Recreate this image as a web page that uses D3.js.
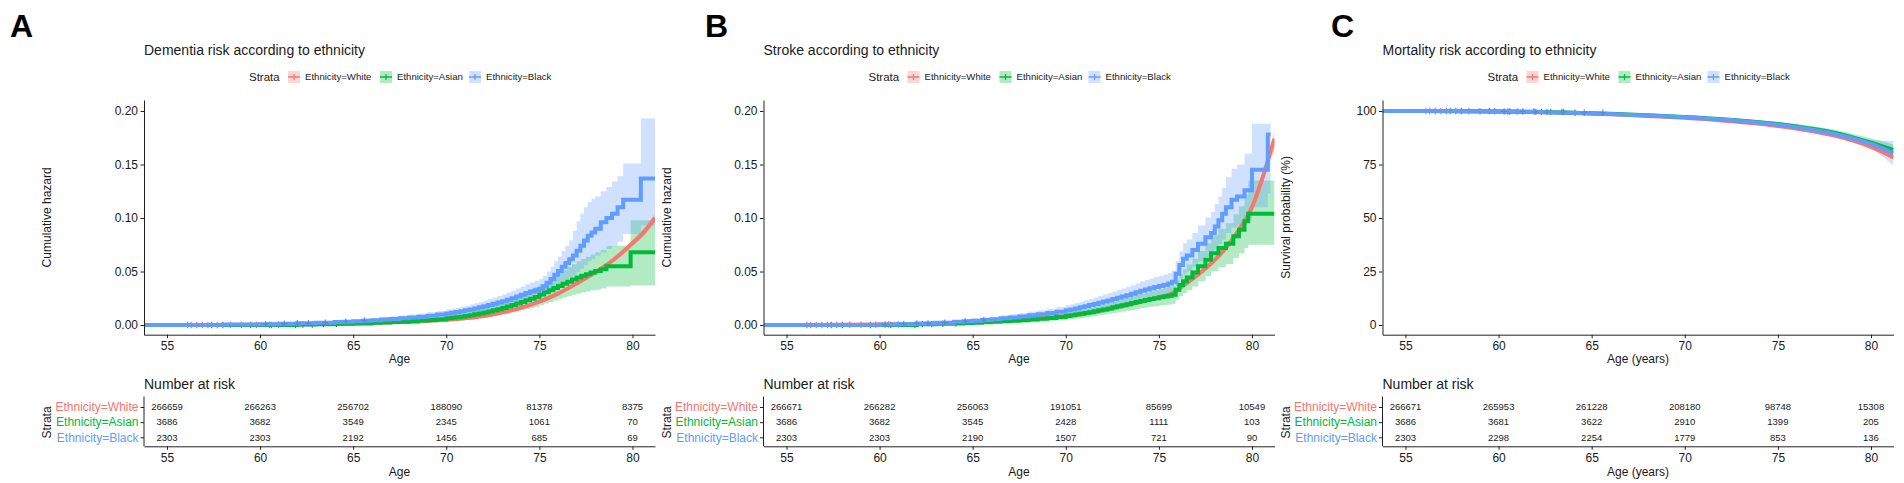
<!DOCTYPE html>
<html><head><meta charset="utf-8">
<script src="https://cdn.jsdelivr.net/npm/d3@7/dist/d3.min.js"></script>
<style>
body{margin:0;background:#fff}
svg{display:block}
text{font-family:"Liberation Sans",Arial,Helvetica,sans-serif}
</style>
</head><body>
<svg id="chart" width="1904" height="483"></svg>
<script>
// ---------------- data ----------------
const xTicks = [55, 60, 65, 70, 75, 80];
const hazardTicks = [0, 0.05, 0.10, 0.15, 0.20];
const hazardTickLabels = ["0.00", "0.05", "0.10", "0.15", "0.20"];
const survTicks = [0, 25, 50, 75, 100];
const survTickLabels = ["0", "25", "50", "75", "100"];
const strata = ["Ethnicity=White", "Ethnicity=Asian", "Ethnicity=Black"];
const panelLetters = ["A", "B", "C"];
const panelTitles = ["Dementia risk according to ethnicity", "Stroke according to ethnicity", "Mortality risk according to ethnicity"];
const yTitles = ["Cumulative hazard", "Cumulative hazard", "Survival probability (%)"];
const xTitles = ["Age", "Age", "Age (years)"];

// [age, estimate, lower, upper]
const dementiaWhite = [[56.0,0,0,0],[58,0.0001,0,0.0003],[60,0.0003,0.0001,0.0005],[62,0.0006,0.0004,0.0008],[64,0.0011,0.0009,0.0013],[66,0.0018,0.0015,0.0021],[68,0.003,0.0027,0.0033],[69,0.0038,0.0034,0.0042],[70,0.0048,0.0044,0.0052],[71,0.0062,0.0057,0.0067],[72,0.0084,0.0078,0.009],[73,0.0118,0.0111,0.0125],[74,0.016,0.0152,0.0168],[75,0.0218,0.0208,0.0228],[76,0.0293,0.0281,0.0305],[77,0.0388,0.0373,0.0403],[78,0.0492,0.0474,0.051],[79,0.0612,0.059,0.0634],[80,0.0765,0.0737,0.0793],[80.6,0.0865,0.083,0.09],[81.21,0.1,0.0955,0.1045]];
const dementiaAsian = [[57,0,0,0],[62,0.0005,0,0.0012],[63,0.0008,0.0001,0.0016],[64,0.0011,0.0003,0.002],[65,0.0015,0.0005,0.0026],[66,0.002,0.0008,0.0033],[66.5,0.0023,0.001,0.0037],[67,0.0027,0.0012,0.0042],[67.5,0.0031,0.0014,0.0048],[68,0.0036,0.0017,0.0055],[68.5,0.0041,0.002,0.0062],[69,0.0047,0.0024,0.007],[69.5,0.0054,0.0028,0.008],[70,0.0062,0.0033,0.0091],[70.25,0.0067,0.0036,0.0098],[70.5,0.0072,0.0039,0.0105],[70.75,0.0078,0.0043,0.0113],[71,0.0085,0.0048,0.0122],[71.25,0.0092,0.0052,0.0132],[71.5,0.01,0.0057,0.0143],[71.75,0.0108,0.0062,0.0154],[72,0.0117,0.0068,0.0166],[72.25,0.0127,0.0075,0.0179],[72.5,0.0137,0.0082,0.0192],[72.75,0.0148,0.0089,0.0207],[73,0.016,0.0097,0.0223],[73.25,0.0173,0.0106,0.024],[73.5,0.0187,0.0116,0.0258],[73.75,0.0201,0.0126,0.0276],[74,0.0216,0.0137,0.0295],[74.25,0.0231,0.0148,0.0314],[74.5,0.0246,0.0159,0.0333],[74.75,0.0262,0.017,0.0354],[75,0.0285,0.0188,0.0382],[75.25,0.0305,0.0202,0.0408],[75.5,0.0325,0.0216,0.0434],[75.75,0.0345,0.0229,0.0461],[76,0.0365,0.0243,0.0487],[76.25,0.0385,0.0256,0.0514],[76.5,0.0405,0.0269,0.0541],[76.75,0.0425,0.0282,0.0568],[77,0.0445,0.0295,0.0595],[77.25,0.046,0.0304,0.0616],[77.5,0.0475,0.0313,0.0637],[77.75,0.049,0.0322,0.0658],[78,0.0505,0.033,0.068],[78.3,0.052,0.034,0.07],[78.6,0.055,0.036,0.074],[79.9,0.068,0.037,0.098],[81.21,0.068,0.037,0.098]];
const dementiaBlack = [[53.76,0,0,0],[58,0.0004,0,0.001],[60,0.0008,0.0001,0.0016],[61,0.0012,0.0003,0.0022],[62,0.0016,0.0005,0.0028],[63,0.0022,0.0008,0.0036],[64,0.0028,0.0012,0.0044],[64.5,0.0031,0.0014,0.0048],[65,0.0035,0.0017,0.0053],[65.5,0.004,0.002,0.006],[66,0.0045,0.0024,0.0066],[66.5,0.0051,0.0028,0.0074],[67,0.0057,0.0033,0.0081],[67.5,0.0063,0.0038,0.0088],[68,0.007,0.0043,0.0097],[68.5,0.0078,0.0049,0.0107],[69,0.0087,0.0056,0.0118],[69.5,0.0097,0.0063,0.0131],[70,0.0108,0.0071,0.0145],[70.25,0.0114,0.0076,0.0152],[70.5,0.0121,0.0081,0.0161],[70.75,0.0129,0.0087,0.0171],[71,0.0137,0.0093,0.0181],[71.25,0.0146,0.01,0.0192],[71.5,0.0155,0.0107,0.0203],[71.75,0.0165,0.0114,0.0216],[72,0.0176,0.0122,0.023],[72.25,0.0187,0.0131,0.0243],[72.5,0.0198,0.0139,0.0257],[72.75,0.021,0.0148,0.0272],[73,0.0222,0.0157,0.0287],[73.25,0.0236,0.0168,0.0304],[73.5,0.025,0.0179,0.0321],[73.75,0.0266,0.0191,0.0341],[74,0.0282,0.0204,0.036],[74.25,0.0298,0.0216,0.038],[74.5,0.0313,0.0228,0.0398],[74.75,0.0325,0.0237,0.0413],[75,0.0338,0.0247,0.0429],[75.2,0.0362,0.0266,0.0458],[75.4,0.0395,0.029,0.05],[75.6,0.043,0.0316,0.0544],[75.8,0.047,0.0345,0.0595],[76,0.0505,0.037,0.064],[76.2,0.0545,0.0398,0.0692],[76.4,0.058,0.0422,0.0738],[76.6,0.0615,0.0446,0.079],[76.8,0.065,0.047,0.088],[77,0.0695,0.0497,0.097],[77.2,0.074,0.0525,0.104],[77.4,0.079,0.056,0.11],[77.6,0.0835,0.0595,0.115],[77.8,0.0865,0.062,0.118],[78,0.09,0.065,0.12],[78.3,0.096,0.068,0.125],[78.6,0.1,0.071,0.129],[78.9,0.104,0.074,0.134],[79.2,0.11,0.078,0.139],[79.5,0.117,0.085,0.151],[80.45,0.137,0.093,0.193],[81.21,0.137,0.093,0.193]];

const strokeWhite = [[56,0,0,0],[58,0.0002,0.0001,0.0003],[60,0.0005,0.0003,0.0007],[62,0.001,0.0008,0.0012],[64,0.002,0.0017,0.0023],[66,0.0035,0.0031,0.0039],[68,0.0057,0.0052,0.0062],[70,0.0085,0.0079,0.0091],[71,0.0108,0.0101,0.0115],[72,0.0138,0.013,0.0146],[73,0.0175,0.0166,0.0184],[74,0.0215,0.0205,0.0225],[75,0.026,0.0249,0.0271],[75.7,0.0295,0.0283,0.0307],[76.4,0.038,0.0366,0.0394],[77.1,0.047,0.0453,0.0487],[77.8,0.0575,0.0555,0.0595],[78.6,0.072,0.0695,0.0745],[79.3,0.089,0.086,0.092],[80,0.11,0.106,0.114],[80.5,0.134,0.129,0.139],[81,0.162,0.155,0.169],[81.21,0.174,0.166,0.182]];
const strokeAsian = [[57,0,0,0],[62,0.0008,0.0001,0.0017],[63,0.0011,0.0003,0.0021],[64,0.0015,0.0005,0.0026],[64.5,0.0018,0.0007,0.0029],[65,0.0021,0.0009,0.0033],[65.5,0.0025,0.0011,0.0039],[66,0.003,0.0014,0.0046],[66.5,0.0035,0.0017,0.0053],[67,0.004,0.0021,0.0059],[67.5,0.0045,0.0024,0.0066],[68,0.0051,0.0028,0.0074],[68.5,0.0058,0.0033,0.0083],[69,0.0066,0.0039,0.0093],[69.5,0.0075,0.0045,0.0105],[70,0.0085,0.0052,0.0118],[70.25,0.0091,0.0056,0.0126],[70.5,0.0097,0.006,0.0134],[70.75,0.0104,0.0066,0.0142],[71,0.0112,0.0071,0.0153],[71.25,0.012,0.0077,0.0163],[71.5,0.0128,0.0083,0.0173],[71.75,0.0137,0.009,0.0184],[72,0.0146,0.0097,0.0195],[72.25,0.0155,0.0104,0.0206],[72.5,0.0165,0.0111,0.0219],[72.75,0.0175,0.0118,0.0232],[73,0.0185,0.0126,0.0244],[73.25,0.0195,0.0133,0.0257],[73.5,0.0205,0.0141,0.0269],[73.75,0.0215,0.0149,0.0281],[74,0.0225,0.0157,0.0293],[74.25,0.0234,0.0164,0.0304],[74.5,0.0243,0.017,0.0316],[74.75,0.0251,0.0176,0.0326],[75,0.0259,0.0182,0.0336],[75.25,0.0266,0.0187,0.0345],[75.5,0.0273,0.0192,0.0354],[75.7,0.0282,0.0199,0.0365],[75.9,0.033,0.0236,0.0424],[76.1,0.0375,0.027,0.048],[76.3,0.041,0.0298,0.0522],[76.5,0.0445,0.0325,0.0565],[76.8,0.049,0.036,0.062],[77.1,0.055,0.0408,0.0692],[77.5,0.061,0.0455,0.0765],[77.8,0.067,0.0502,0.0838],[78.2,0.072,0.054,0.09],[78.6,0.076,0.0571,0.095],[79,0.083,0.0625,0.1035],[79.3,0.089,0.067,0.111],[79.6,0.097,0.072,0.122],[79.8,0.104,0.075,0.135],[81.21,0.104,0.075,0.135]];
const strokeBlack = [[53.76,0,0,0],[60,0.0005,0,0.0012],[61,0.001,0.0002,0.0019],[62,0.0015,0.0004,0.0027],[63,0.0022,0.0008,0.0036],[64,0.003,0.0013,0.0047],[64.5,0.0035,0.0016,0.0054],[65,0.004,0.0019,0.0061],[65.5,0.0047,0.0024,0.007],[66,0.0054,0.0028,0.008],[66.5,0.0062,0.0034,0.009],[67,0.007,0.0039,0.0101],[67.5,0.008,0.0047,0.0113],[68,0.009,0.0054,0.0126],[68.5,0.01,0.0062,0.0138],[69,0.0112,0.0071,0.0153],[69.5,0.0125,0.0081,0.0169],[70,0.0138,0.0091,0.0185],[70.25,0.0146,0.0097,0.0195],[70.5,0.0155,0.0104,0.0206],[70.75,0.0165,0.0112,0.0218],[71,0.0176,0.012,0.0232],[71.25,0.0186,0.0128,0.0244],[71.5,0.0197,0.0137,0.0257],[71.75,0.0208,0.0145,0.0271],[72,0.0219,0.0154,0.0284],[72.25,0.023,0.0162,0.0298],[72.5,0.0242,0.0172,0.0312],[72.75,0.0254,0.0181,0.0327],[73,0.0266,0.0191,0.0341],[73.25,0.0279,0.0201,0.0357],[73.5,0.0292,0.0212,0.0372],[73.75,0.0306,0.0223,0.0389],[74,0.032,0.0234,0.0406],[74.25,0.0332,0.0243,0.0421],[74.5,0.0344,0.0253,0.0435],[74.75,0.0355,0.0262,0.0448],[75,0.0365,0.027,0.046],[75.25,0.0375,0.0278,0.0472],[75.5,0.0387,0.0288,0.0486],[75.7,0.0405,0.0302,0.0508],[75.9,0.048,0.0365,0.0595],[76.1,0.056,0.043,0.069],[76.3,0.062,0.048,0.0765],[76.5,0.065,0.0505,0.08],[76.8,0.07,0.0545,0.086],[77.1,0.076,0.059,0.093],[77.5,0.082,0.0635,0.1005],[77.8,0.086,0.0665,0.1055],[78,0.092,0.071,0.113],[78.2,0.098,0.0755,0.12],[78.4,0.104,0.08,0.128],[78.6,0.11,0.086,0.138],[78.9,0.117,0.091,0.146],[79.2,0.12,0.093,0.15],[79.6,0.126,0.098,0.16],[80,0.145,0.11,0.188],[80.85,0.178,0.123,0.188],[81.0,0.178,0.123,0.188]];

const mortalityWhite = [[56,100,100,100],[58,99.9,99.85,99.95],[60,99.75,99.7,99.8],[62,99.5,99.45,99.55],[64,99.1,99.05,99.15],[66,98.5,98.44,98.56],[68,97.7,97.63,97.77],[70,96.8,96.72,96.88],[72,95.6,95.5,95.7],[74,94.0,93.88,94.12],[75,93.0,92.86,93.14],[76,91.8,91.64,91.96],[78,88.6,88.38,88.82],[80,83.2,82.85,83.55],[81.21,78.3,77.7,78.9]];
const mortalityAsian = [[57,100,100,100],[60,99.8,99.6,100],[62,99.6,99.35,99.85],[64,99.2,98.9,99.5],[66,98.7,98.3,99.1],[68,98.0,97.5,98.5],[70,97.2,96.6,97.8],[72,96.2,95.5,96.9],[74,94.8,93.9,95.7],[76,92.8,91.7,93.9],[78,89.9,88.5,91.3],[80,85.2,83.3,87.1],[81.21,81.8,79.2,84.4]];
const mortalityBlack = [[53.76,100,100,100],[60,99.8,99.6,100],[62,99.55,99.3,99.8],[64,99.15,98.8,99.5],[66,98.6,98.15,99.05],[68,97.9,97.35,98.45],[70,97.1,96.45,97.75],[72,96.0,95.2,96.8],[74,94.5,93.5,95.5],[76,92.4,91.2,93.6],[78,89.4,87.9,90.9],[80,84.6,82.6,86.6],[81.21,80.3,74.5,86]];

// censoring ages (+ marks)
const censorWhite = [56.1,56.3,56.6,56.9,57.2,57.7,58.4,59.0,59.8,60.5,61.0];
const censorAsian = [57.4,58.0,59.5,60.6,61.9,62.3,62.8,63.4,64.1];
const censorBlack = [60.3,61.3,62.0,62.6,63.5,64.6,65.6];

// numbers at risk at xTicks
const riskDementiaWhite = [266659, 266263, 256702, 188090, 81378, 8375];
const riskDementiaAsian = [3686, 3682, 3549, 2345, 1061, 70];
const riskDementiaBlack = [2303, 2303, 2192, 1456, 685, 69];
const riskStrokeWhite = [266671, 266282, 256063, 191051, 85699, 10549];
const riskStrokeAsian = [3686, 3682, 3545, 2428, 1111, 103];
const riskStrokeBlack = [2303, 2303, 2190, 1507, 721, 90];
const riskMortalityWhite = [266671, 265953, 261228, 208180, 98748, 15308];
const riskMortalityAsian = [3686, 3681, 3622, 2910, 1399, 205];
const riskMortalityBlack = [2303, 2298, 2254, 1779, 853, 136];

// ---------------- layout / style ----------------
const colors = ["#F8766D", "#00BA38", "#619CFF"];
const FONT = '"Liberation Sans",Arial,Helvetica,sans-serif';
const panelLefts = [144, 763.5, 1382.5];
const letterXs = [10, 705, 1331];
const PLOT_W = 511;
const X_DOMAIN = [53.765, 81.21];
const PLOT_TOP = 100, PLOT_BOTTOM = 334.7, Y_ZERO = 325, Y_TOPTICK = 111;
const TEXT = "#1a1a1a";

const panels = [
  {series: [dementiaWhite, dementiaAsian, dementiaBlack], risk: [riskDementiaWhite, riskDementiaAsian, riskDementiaBlack], yMax: 0.2, ticks: hazardTicks, tickLabels: hazardTickLabels, smooth: [true, false, false]},
  {series: [strokeWhite, strokeAsian, strokeBlack], risk: [riskStrokeWhite, riskStrokeAsian, riskStrokeBlack], yMax: 0.2, ticks: hazardTicks, tickLabels: hazardTickLabels, smooth: [true, false, false]},
  {series: [mortalityWhite, mortalityAsian, mortalityBlack], risk: [riskMortalityWhite, riskMortalityAsian, riskMortalityBlack], yMax: 100, ticks: survTicks, tickLabels: survTickLabels, smooth: [true, true, true]}
];
const censors = [censorWhite, censorAsian, censorBlack];

const svg = d3.select("#chart");

function stepValue(s, age) {
  let v = s[0][1];
  for (const p of s) if (p[0] <= age) v = p[1];
  return v;
}

panels.forEach((P, pi) => {
  const L = panelLefts[pi];
  const x = d3.scaleLinear().domain(X_DOMAIN).range([L, L + PLOT_W]);
  const perPx = P.yMax / (Y_ZERO - Y_TOPTICK);
  const y = d3.scaleLinear()
    .domain([-(PLOT_BOTTOM - Y_ZERO) * perPx, P.yMax + (Y_TOPTICK - PLOT_TOP) * perPx])
    .range([PLOT_BOTTOM, PLOT_TOP]);
  const g = svg.append("g");

  g.append("text").attr("x", letterXs[pi]).attr("y", 37)
    .attr("font-size", 32).attr("font-weight", "bold").attr("fill", "#000")
    .text(panelLetters[pi]);
  g.append("text").attr("x", L).attr("y", 55).attr("font-size", 14).attr("fill", TEXT)
    .text(panelTitles[pi]);

  // legend
  const lg = g.append("g").attr("transform", `translate(${L},77)`);
  lg.append("text").attr("x", 105).attr("y", 0).attr("dy", "0.35em").attr("font-size", 11.5).attr("fill", TEXT).text("Strata");
  const keyX = [150, 242, 331];
  strata.forEach((s, i) => {
    const kx = keyX[i];
    lg.append("rect").attr("x", kx - 6).attr("y", -6).attr("width", 12).attr("height", 12)
      .attr("fill", colors[i]).attr("fill-opacity", 0.3);
    lg.append("line").attr("x1", kx - 6).attr("x2", kx + 6).attr("y1", 0).attr("y2", 0)
      .attr("stroke", colors[i]).attr("stroke-width", 1.5);
    lg.append("line").attr("x1", kx).attr("x2", kx).attr("y1", -3).attr("y2", 3)
      .attr("stroke", colors[i]).attr("stroke-width", 1.2);
    lg.append("text").attr("x", kx + 11).attr("y", 0).attr("dy", "0.35em")
      .attr("font-size", 9.6).attr("fill", TEXT).text(s);
  });

  const clipId = "clip" + pi;
  g.append("clipPath").attr("id", clipId).append("rect")
    .attr("x", L).attr("y", PLOT_TOP).attr("width", PLOT_W).attr("height", PLOT_BOTTOM - PLOT_TOP);
  const pg = g.append("g").attr("clip-path", `url(#${clipId})`);

  P.series.forEach((s, i) => {
    const area = d3.area().x(d => x(d[0])).y0(d => y(d[2])).y1(d => y(d[3]))
      .curve(P.smooth[i] ? d3.curveMonotoneX : d3.curveStepAfter);
    pg.append("path").datum(s).attr("d", area).attr("fill", colors[i]).attr("fill-opacity", 0.3);
  });
  P.series.forEach((s, i) => {
    const line = d3.line().x(d => x(d[0])).y(d => y(d[1]))
      .curve(P.smooth[i] ? d3.curveMonotoneX : d3.curveStepAfter);
    pg.append("path").datum(s).attr("d", line).attr("fill", "none")
      .attr("stroke", colors[i]).attr("stroke-width", 4);
    const marks = censors[i].filter(a => a >= s[0][0]);
    pg.selectAll(null).data(marks).enter().append("path")
      .attr("d", a => { const cx = x(a), cy = y(stepValue(s, a)); return `M${cx-3.2},${cy}H${cx+3.2}M${cx},${cy-3.2}V${cy+3.2}`; })
      .attr("stroke", d3.color(colors[i]).darker(0.4)).attr("stroke-width", 1.1).attr("fill", "none");
  });

  const yAxis = d3.axisLeft(y).tickValues(P.ticks).tickFormat((d, i) => P.tickLabels[i])
    .tickSize(3.5).tickSizeOuter(0).tickPadding(2.5);
  const ya = g.append("g").attr("transform", `translate(${L},0)`).call(yAxis);
  const xAxis = d3.axisBottom(x).tickValues(xTicks).tickFormat(d3.format("d"))
    .tickSize(3.5).tickSizeOuter(0).tickPadding(3.3);
  const xa = g.append("g").attr("transform", `translate(0,${PLOT_BOTTOM})`).call(xAxis);
  [ya, xa].forEach(a => {
    a.selectAll("text").attr("font-size", 12).attr("font-family", FONT).attr("fill", TEXT);
    a.selectAll("line").attr("stroke", "#222");
    a.select(".domain").attr("stroke", "#222").attr("stroke-width", 1);
  });
  g.append("text").attr("transform", `translate(${L - 97},${(PLOT_TOP + PLOT_BOTTOM) / 2}) rotate(-90)`)
    .attr("text-anchor", "middle").attr("dy", "0.35em").attr("font-size", 12).attr("fill", TEXT)
    .text(yTitles[pi]);
  g.append("text").attr("x", L + PLOT_W / 2).attr("y", 359).attr("dy", "0.35em")
    .attr("text-anchor", "middle").attr("font-size", 12).attr("fill", TEXT).text(xTitles[pi]);

  // risk table
  const TBL_TOP = 396.5, TBL_BOTTOM = 446.3;
  const ry = d3.scalePoint().domain(strata).range([407, 437.3]);
  g.append("text").attr("x", L).attr("y", 384).attr("dy", "0.35em").attr("font-size", 14)
    .attr("fill", TEXT).text("Number at risk");
  strata.forEach((s, i) => {
    g.selectAll(null).data(P.risk[i]).enter().append("text")
      .attr("x", (d, j) => x(xTicks[j])).attr("y", ry(s)).attr("dy", "0.35em")
      .attr("text-anchor", "middle").attr("font-size", 9.5).attr("fill", TEXT).text(d => d);
  });
  const ryAxis = d3.axisLeft(ry).tickSize(3.5).tickSizeOuter(0).tickPadding(2);
  const rya = g.append("g").attr("transform", `translate(${L},0)`).call(ryAxis);
  rya.select(".domain").attr("d", `M0,${TBL_TOP}V${TBL_BOTTOM}`).attr("stroke", "#222");
  rya.selectAll("line").attr("stroke", "#222");
  rya.selectAll("text").attr("font-size", 12).attr("font-family", FONT)
    .attr("fill", (d, i) => colors[i]);
  const rxa = g.append("g").attr("transform", `translate(0,${TBL_BOTTOM})`).call(xAxis);
  rxa.selectAll("text").attr("font-size", 12).attr("font-family", FONT).attr("fill", TEXT);
  rxa.selectAll("line").attr("stroke", "#222");
  rxa.select(".domain").attr("stroke", "#222");
  g.append("text").attr("transform", `translate(${L - 97},${(TBL_TOP + TBL_BOTTOM) / 2 + 1}) rotate(-90)`)
    .attr("text-anchor", "middle").attr("dy", "0.35em").attr("font-size", 12).attr("fill", TEXT).text("Strata");
  g.append("text").attr("x", L + PLOT_W / 2).attr("y", 471.7).attr("dy", "0.35em")
    .attr("text-anchor", "middle").attr("font-size", 12).attr("fill", TEXT).text(xTitles[pi]);
});
</script>
</body></html>
